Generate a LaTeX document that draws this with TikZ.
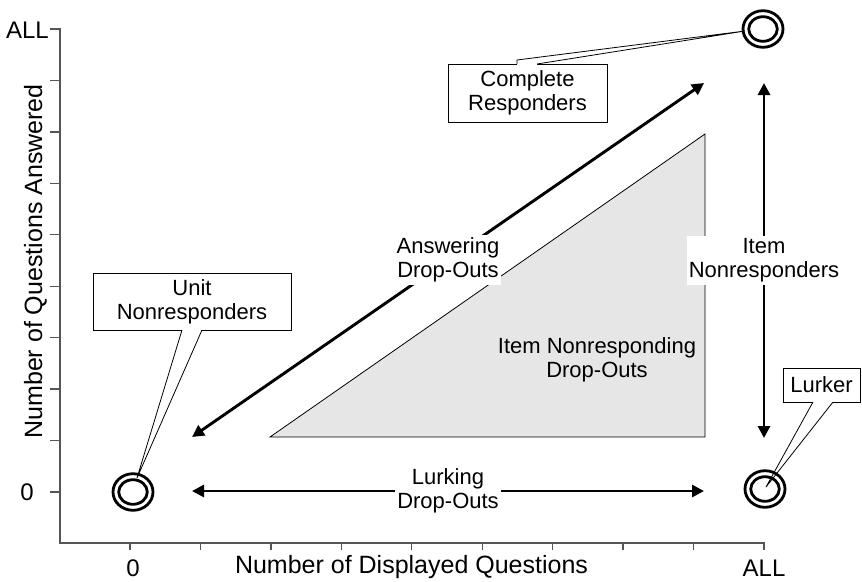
\documentclass[tikz,border=0pt]{standalone}
\usepackage{fontspec}
\setmainfont{Liberation Sans}
\usetikzlibrary{arrows.meta,calc}
\definecolor{trifill}{RGB}{230,230,230}
\definecolor{axisgray}{RGB}{85,85,85}
\begin{document}
\begin{tikzpicture}[x=1pt,y=-1pt,
  lbl/.style={font=\fontsize{22}{24}\selectfont, align=center, inner sep=0pt},
  ticklbl/.style={font=\fontsize{24}{26}\selectfont, inner sep=0pt},
  axtitle/.style={font=\fontsize{25}{27}\selectfont, inner sep=0pt},
  axisline/.style={draw=axisgray, line width=1.3pt},
  dbl/.style={line width=2.9pt, {Triangle[length=12pt,width=12pt]}-{Triangle[length=12pt,width=12pt]}},
  ring/.style={line width=2.8pt},
  thinline/.style={line width=0.8pt},
  onarrow/.style={lbl, fill=white, inner xsep=2pt, inner ysep=3pt},
  callbox/.style={lbl, draw, fill=white, thinline},
  ptnode/.style={inner sep=0pt, minimum size=0pt}
]
\useasboundingbox (0,0) rectangle (862,581);

% axes
\draw[axisline, line join=miter] (50,29) -- (60,29) -- (60,543) -- (764,543) -- (764,550);
\foreach \k in {1,...,9} {
  \draw[axisline] (50,{29+51.444*\k}) -- (60,{29+51.444*\k});
}
\foreach \k in {0,...,8} {
  \draw[axisline] ({130+70.444*\k},543) -- ({130+70.444*\k},550);
}

% tick labels
\node[ticklbl, anchor=base east] (yall) at (49,38) {ALL};
\node[ticklbl, anchor=base] (yzero) at (27,500) {0};
\node[ticklbl, anchor=base] (xzero) at (133,576) {0};
\node[ticklbl, anchor=base] (xall) at (764,576) {ALL};

% axis titles
\node[axtitle, anchor=base] (xtitle) at (411.5,573) {Number of Displayed Questions};
\node[axtitle, anchor=base, rotate=90] (ytitle) at (42,261.5) {Number of Questions Answered};

% shaded triangle
\draw[fill=trifill, thinline] (270,437) -- (705,437) -- (705,134) -- cycle;
\node[lbl] (inrdo) at (597,360) {Item Nonresponding\\Drop-Outs};

% arrows
\coordinate (dA) at (192,437);
\coordinate (dB) at (704,83);
\draw[dbl] (dA) -- node[onarrow] (ansdo) {Answering\\Drop-Outs} (dB);

\coordinate (vA) at (764,83);
\coordinate (vB) at (764,438);
\draw[dbl] (vA) -- node[onarrow] (itemnr) {Item\\Nonresponders} (vB);

\coordinate (hA) at (192,491);
\coordinate (hB) at (704,491);
\draw[dbl] (hA) -- node[onarrow] (lurkdo) {Lurking\\Drop-Outs} (hB);

% ring centres
\node[ptnode] (unitC) at (133,492) {};
\node[ptnode] (compC) at (763,29) {};
\node[ptnode] (lurkC) at (765,489) {};

% callouts
\node[callbox, minimum width=198pt, minimum height=57pt] (unitbox) at (192,301.5) {Unit\\Nonresponders};
\coordinate (unitTip) at (137,478);
\fill[white] (182.5,328.5) -- (182,330) -- (unitTip) -- (202,330) -- (201.5,328.5) -- cycle;
\draw[thinline] (182,330) -- (unitTip) -- (202,330);

\node[callbox, minimum width=159pt, minimum height=58pt] (compbox) at (527.5,93) {Complete\\Responders};
\coordinate (compTip) at (745,31);
\fill[white] (517,65.5) -- (517,60) -- (compTip) -- (537,64) -- (537,65.5) -- cycle;
\draw[thinline] (517,64) -- (517,60) -- (compTip) -- (537,64);

\node[callbox, minimum width=77pt, minimum height=34pt] (lurkbox) at (821.5,385) {Lurker};
\coordinate (lurkTip) at (766,487);
\fill[white] (813,400.5) -- (813,402) -- (lurkTip) -- (833,402) -- (833,400.5) -- cycle;
\draw[thinline] (813,402) -- (lurkTip) -- (833,402);

% rings
\foreach \c in {unitC,compC,lurkC} {
  \draw[ring] (\c) ellipse [x radius=20, y radius=18.3];
  \draw[ring] (\c) ellipse [x radius=14.3, y radius=12.3];
}
\end{tikzpicture}
\end{document}
